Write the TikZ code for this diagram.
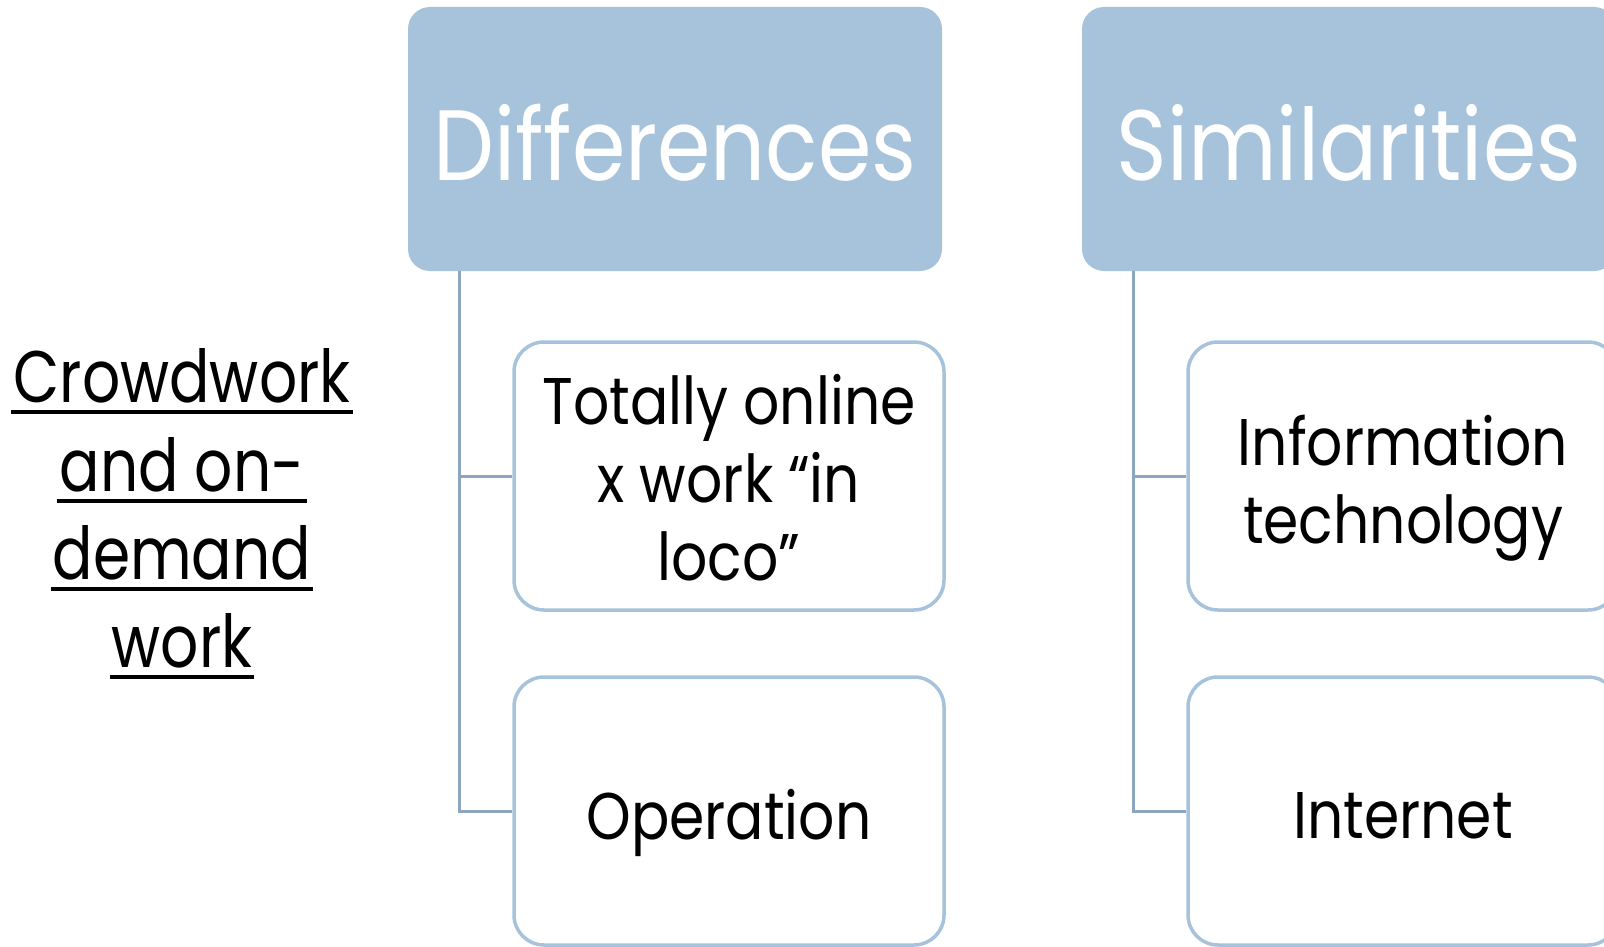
\documentclass[tikz,border=0pt]{standalone}
\usepackage{fontspec}
\setmainfont{Poppins}[FakeStretch=0.86]
\newfontfamily\sidefont{Poppins}[FakeStretch=0.82]
\definecolor{headfill}{HTML}{A7C3DB}
\definecolor{boxline}{HTML}{A7C3DB}
\definecolor{connline}{HTML}{8BA6BE}
\tikzset{
  head/.style={rectangle, rounded corners=22pt, fill=headfill,
    minimum width=534pt, minimum height=264pt, inner sep=0pt},
  headtext/.style={text=white, inner sep=0pt, font=\fontsize{100}{110}\selectfont},
  item/.style={rectangle, rounded corners=30pt, draw=boxline, line width=3.5pt, fill=white,
    minimum width=430pt, minimum height=268pt, inner sep=0pt},
  itemtext/.style={inner sep=0pt, align=center, font=\fontsize{66}{78}\selectfont},
  conn/.style={draw=connline, line width=3pt},
  side/.style={anchor=base, inner xsep=2pt, inner ysep=0pt,
    font=\sidefont\fontsize{73}{88}\selectfont},
  uline/.style={line width=4pt, black}
}
\begin{document}
\begin{tikzpicture}[x=1pt,y=-1pt]
  \useasboundingbox (0,0) rectangle (1604,947);
  \clip (0,0) rectangle (1604,947);

  % group headers
  \node[head] (diff) at (675,139) {};
  \node[head] (sim)  at (1349,139) {};
  \node[headtext] (diffT) at (675,143) {Differences};
  \node[headtext] (simT)  at (1349,143) {Similarities};

  % trunk points under each header
  \coordinate (dtrunk) at ([xshift=52pt]diff.south west);
  \coordinate (strunk) at ([xshift=52pt]sim.south west);

  % item boxes
  \node[item] (tot)  at (729,476)  {};
  \node[item] (oper) at (729,811)  {};
  \node[item] (info) at (1403,476) {};
  \node[item] (inet) at (1403,811) {};

  % connectors from the trunks to the item boxes
  \draw[conn] (dtrunk) |- (tot.west);
  \draw[conn] (dtrunk) |- (oper.west);
  \draw[conn] (strunk) |- (info.west);
  \draw[conn] (strunk) |- (inet.west);

  % item texts
  \node[itemtext] (totT)  at (729,478)  {Totally online\\x work “in\\loco”};
  \node[itemtext] (operT) at (729,823)  {Operation};
  \node[itemtext] (infoT) at (1403,488) {Information\\technology};
  \node[itemtext] (inetT) at (1403,816) {Internet};

  % left title, one node per line with its underline
  \node[side] (l1) at (182,402) {Crowdwork};
  \node[side] (l2) at (182,491) {and on-};
  \node[side] (l3) at (182,579) {demand};
  \node[side] (l4) at (182,667) {work};
  \foreach \n in {l1,l2,l3,l4}
    \draw[uline] ([yshift=-10pt]\n.base west) -- ([yshift=-10pt]\n.base east);
\end{tikzpicture}
\end{document}
